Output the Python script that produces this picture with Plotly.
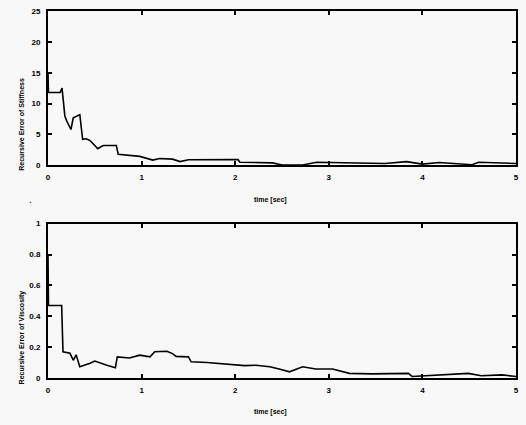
import plotly.graph_objects as go
from plotly.subplots import make_subplots

# Stiffness recursive error (top panel)
t_stiff = [0, 0.005, 0.13, 0.15, 0.18, 0.2, 0.245, 0.27, 0.34, 0.37, 0.41, 0.45, 0.5, 0.53, 0.59, 0.73, 0.75,
           0.98, 1.12, 1.19, 1.33, 1.41, 1.5, 1.62, 2.03, 2.05, 2.4, 2.5, 2.72, 2.87, 3.33, 3.6,
           3.83, 4.0, 4.18, 4.53, 4.6, 5.0]
v_stiff = [15.0, 11.8, 11.8, 12.5, 8.0, 7.2, 5.8, 7.7, 8.2, 4.2, 4.3, 4.0, 3.2, 2.7, 3.2, 3.2, 1.8,
           1.45, 0.85, 1.1, 1.0, 0.6, 0.9, 0.9, 0.95, 0.5, 0.4, 0.05, 0.05, 0.5, 0.45, 0.3,
           0.6, 0.2, 0.45, 0.1, 0.5, 0.3]

# Viscosity recursive error (bottom panel)
t_visc = [0, 0.005, 0.146, 0.16, 0.235, 0.27, 0.3, 0.34, 0.45, 0.5, 0.63, 0.72, 0.74, 0.87, 0.98,
          1.09, 1.14, 1.27, 1.33, 1.37, 1.5, 1.53, 1.7, 1.9, 2.0, 2.1, 2.22, 2.37, 2.47, 2.58,
          2.72, 2.86, 3.04, 3.12, 3.22, 3.46, 3.85, 3.89, 4.2, 4.49, 4.63, 4.85, 5.0]
v_visc = [0.8, 0.47, 0.47, 0.17, 0.16, 0.115, 0.15, 0.073, 0.095, 0.11, 0.083, 0.066, 0.137, 0.13, 0.148,
          0.137, 0.17, 0.173, 0.158, 0.14, 0.137, 0.105, 0.1, 0.09, 0.088, 0.08, 0.083, 0.073, 0.058, 0.04,
          0.073, 0.058, 0.058, 0.045, 0.03, 0.027, 0.03, 0.01, 0.02, 0.03, 0.015, 0.02, 0.01]

x_ticks = [0, 1, 2, 3, 4, 5]
y_ticks_stiff = [0, 5, 10, 15, 20, 25]
y_ticks_visc = [0, 0.2, 0.4, 0.6, 0.8, 1]
y_ticklabels_visc = ["0", "0.2", "0.4", "0.6", "0.8", "1"]

BG = "#f8f8f8"
FONT = "Liberation Sans"

fig = make_subplots(rows=2, cols=1, vertical_spacing=0.0)
fig.add_trace(go.Scatter(x=t_stiff, y=v_stiff, mode="lines",
                         line=dict(color="black", width=1.6)), row=1, col=1)
fig.add_trace(go.Scatter(x=t_visc, y=v_visc, mode="lines",
                         line=dict(color="black", width=1.6)), row=2, col=1)

axis_common = dict(showgrid=False, zeroline=False, showline=True, linecolor="black",
                   linewidth=2, mirror="ticks", ticks="inside", ticklen=4, tickwidth=1.5,
                   tickcolor="black",
                   tickfont=dict(family=FONT, size=8, color="black", weight="bold"))

fig.update_xaxes(range=[0, 5], tickvals=x_ticks, domain=[0, 1], ticklabelstandoff=3,
                 **axis_common)
fig.update_yaxes(range=[0, 25], tickvals=y_ticks_stiff, domain=[0.5795, 1], row=1, col=1,
                 ticklabelstandoff=4, **axis_common)
fig.update_yaxes(range=[0, 1], tickvals=y_ticks_visc, ticktext=y_ticklabels_visc,
                 domain=[0, 0.4205], row=2, col=1, ticklabelstandoff=4, **axis_common)

tfont = dict(family=FONT, size=7, color="black", weight="bold")
annotations = [
    dict(text="Recursive Error of Stiffness", x=-0.0556, y=0.6927, xref="paper", yref="paper",
         textangle=-90, showarrow=False, font=tfont, xanchor="center", yanchor="middle"),
    dict(text="Recursive Error of Viscosity", x=-0.0556, y=0.1105, xref="paper", yref="paper",
         textangle=-90, showarrow=False, font=tfont, xanchor="center", yanchor="middle"),
    dict(text="time [sec]", x=0.4744, y=(378 - 198) / 371, xref="paper", yref="paper",
         showarrow=False, font=tfont, xanchor="center", yanchor="middle"),
    dict(text="time [sec]", x=0.4744, y=(378 - 412) / 371, xref="paper", yref="paper",
         showarrow=False, font=tfont, xanchor="center", yanchor="middle"),
    dict(text=".", x=(30 - 48) / 469, y=(378 - 198) / 371, xref="paper", yref="paper",
         showarrow=False, font=dict(family=FONT, size=10, color="black"),
         xanchor="center", yanchor="middle"),
]

fig.update_layout(width=526, height=425, margin=dict(l=48, r=9, t=7, b=47),
                  paper_bgcolor=BG, plot_bgcolor=BG, showlegend=False,
                  annotations=annotations)

fig.write_html("out.html")
